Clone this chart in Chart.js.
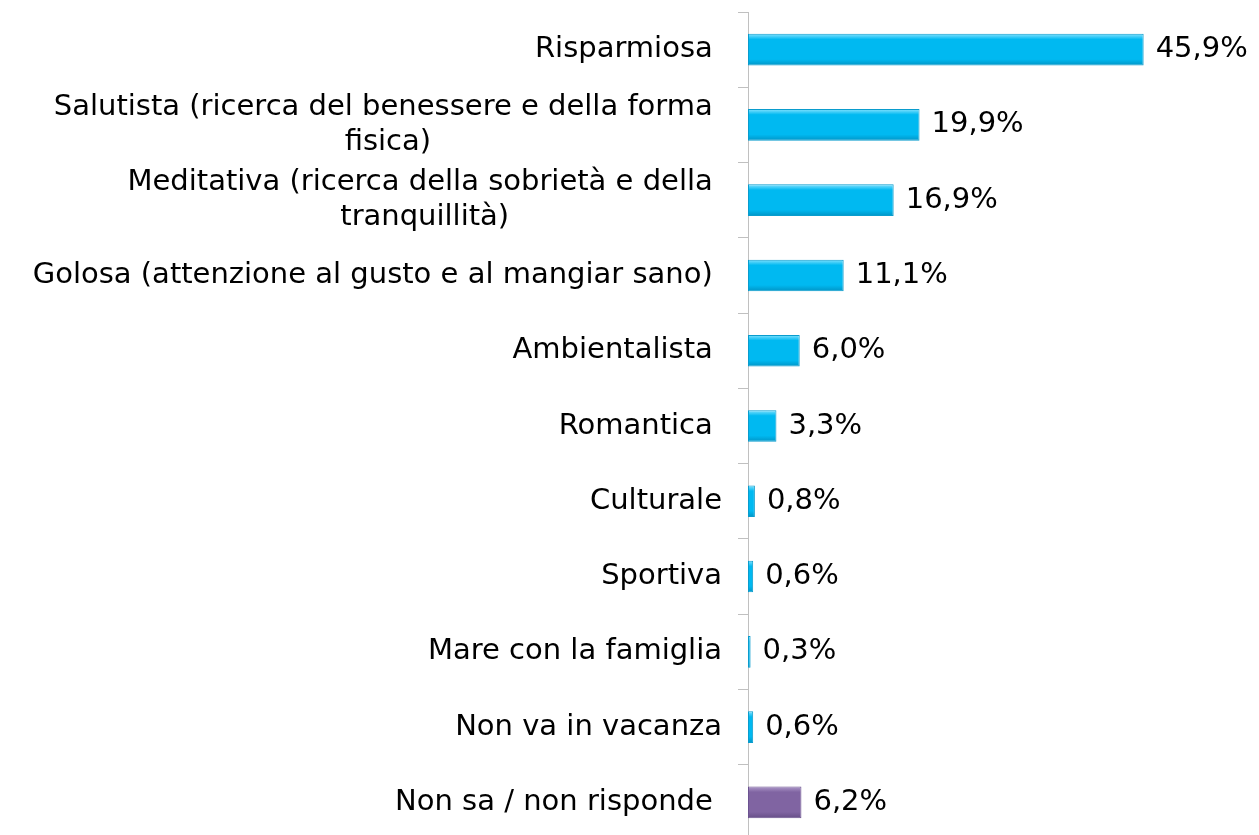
<!DOCTYPE html>
<html lang="it">
<head>
  <meta charset="UTF-8" />
  <title>Tipologia di vacanza</title>
  <script src="https://cdn.jsdelivr.net/npm/chart.js"></script>
  <style>
    html, body { margin: 0; padding: 0; background: #fff; overflow: hidden; }
    #wrap { width: 1259px; height: 852px; position: relative; }
  </style>
</head>
<body>
  <div id="wrap"><canvas id="chart"></canvas></div>

  <script>
    // categories (multi-line labels as arrays), values in %
    const categories = [
      ['Risparmiosa '],
      ['Salutista (ricerca del benessere e della forma ', 'fisica)'],
      ['Meditativa (ricerca della sobrietà e della ', 'tranquillità)'],
      ['Golosa (attenzione al gusto e al mangiar sano) '],
      ['Ambientalista '],
      ['Romantica '],
      ['Culturale'],
      ['Sportiva'],
      ['Mare con la famiglia'],
      ['Non va in vacanza'],
      ['Non sa / non risponde ']
    ];
    const values = [45.9, 19.9, 16.9, 11.1, 6.0, 3.3, 0.8, 0.6, 0.3, 0.6, 6.2];
    const xMin = 0;
    const xMax = 50;

    const FONT = '29px "DejaVu Sans", Verdana, sans-serif';
    const LABEL_RIGHT = 722;   // right edge of category labels
    const LINE_H = 35;

    const cyan   = { light: '#8ae4ff', mid: '#00b9f1', dark: '#0093c4', border: '#0a9ccd' };
    const purple = { light: '#b09ccc', mid: '#8064a2', dark: '#654d86', border: '#6b5290' };

    function pal(i) { return i === values.length - 1 ? purple : cyan; }

    function barFill(c) {
      const p = pal(c.dataIndex);
      const y = c.chart.scales.y;
      if (!y || !c.chart.chartArea) return p.mid;
      const cy = y.getPixelForValue(c.dataIndex);
      if (!isFinite(cy)) return p.mid;
      const g = c.chart.ctx.createLinearGradient(0, cy - 16, 0, cy + 16);
      g.addColorStop(0, p.light);
      g.addColorStop(0.18, p.mid);
      g.addColorStop(0.8, p.mid);
      g.addColorStop(1, p.dark);
      return g;
    }

    // category labels, each line centred on the widest one (like Excel)
    const yLabels = {
      id: 'yLabels',
      afterDraw(chart) {
        const ctx = chart.ctx, y = chart.scales.y;
        ctx.save();
        ctx.font = FONT;
        ctx.fillStyle = '#000';
        ctx.textAlign = 'center';
        ctx.textBaseline = 'middle';
        categories.forEach((lines, i) => {
          const cy = y.getPixelForValue(i);
          const widest = Math.max(...lines.map(l => ctx.measureText(l).width));
          const cx = LABEL_RIGHT - widest / 2;
          lines.forEach((l, k) => {
            ctx.fillText(l, cx, cy + (k - (lines.length - 1) / 2) * LINE_H);
          });
        });
        ctx.restore();
      }
    };

    // value labels at the end of each bar
    const valueLabels = {
      id: 'valueLabels',
      afterDatasetsDraw(chart) {
        const ctx = chart.ctx;
        const meta = chart.getDatasetMeta(0);
        ctx.save();
        ctx.font = FONT;
        ctx.fillStyle = '#000';
        ctx.textAlign = 'left';
        ctx.textBaseline = 'middle';
        meta.data.forEach((bar, i) => {
          const txt = values[i].toFixed(1).replace('.', ',') + '%';
          ctx.fillText(txt, bar.x + 12, bar.y);
        });
        ctx.restore();
      }
    };

    const chart = new Chart(document.getElementById('chart'), {
      type: 'bar',
      data: {
        labels: categories.map(c => c.join(' ').trim()),
        datasets: [{
          data: values,
          backgroundColor: barFill,
          borderColor: c => pal(c.dataIndex).border,
          borderWidth: 1,
          borderSkipped: false,
          categoryPercentage: 1,
          barPercentage: 0.42
        }]
      },
      options: {
        indexAxis: 'y',
        responsive: true,
        maintainAspectRatio: false,
        animation: false,
        layout: { padding: { top: 12, right: 80, bottom: 12, left: 0 } },
        plugins: {
          legend: { display: false },
          tooltip: { enabled: false }
        },
        scales: {
          x: { display: false, min: xMin, max: xMax },
          y: {
            afterFit: s => { s.width = 748; },
            ticks: { display: false },
            grid: {
              drawOnChartArea: false,
              drawTicks: true,
              tickLength: 10,
              color: '#c0c0c0',
              offset: true
            },
            border: { display: true, color: '#c0c0c0', width: 1 }
          }
        }
      },
      plugins: [yLabels, valueLabels]
    });
  </script>
</body>
</html>
